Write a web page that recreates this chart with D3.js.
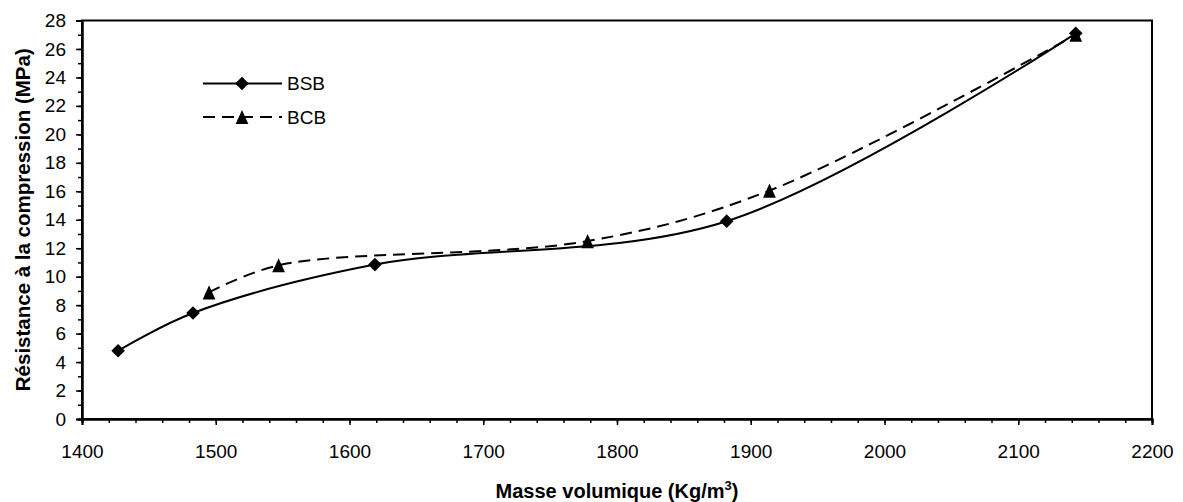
<!DOCTYPE html>
<html>
<head>
<meta charset="utf-8">
<script src="https://cdn.jsdelivr.net/npm/d3@7"></script>
<style>
  body { margin: 0; background: #fff; }
  svg text { font-family: 'Liberation Sans', Arial, sans-serif; fill: #000; }
</style>
</head>
<body>
<svg id="chart" width="1183" height="502"></svg>
<script>
// BSB series
const bsbDensity = [1427, 1483, 1619, 1882, 2143];
const bsbStrength = [4.8, 7.45, 10.85, 13.9, 27.1];
// BCB series
const bcbDensity = [1495, 1547, 1778, 1914, 2143];
const bcbStrength = [8.9, 10.8, 12.5, 16.05, 27.0];

const xTicks = [1400, 1500, 1600, 1700, 1800, 1900, 2000, 2100, 2200];
const yTicks = [0, 2, 4, 6, 8, 10, 12, 14, 16, 18, 20, 22, 24, 26, 28];
const seriesNames = ['BSB', 'BCB'];

const margin = { top: 20.5, right: 31, bottom: 83, left: 82 };
const svg = d3.select('#chart');
const width = +svg.attr('width') - margin.left - margin.right;
const height = +svg.attr('height') - margin.top - margin.bottom;

const x = d3.scaleLinear().domain([1400, 2200]).range([0, width]);
const y = d3.scaleLinear().domain([0, 28]).range([height, 0]);

const g = svg.append('g').attr('transform', `translate(${margin.left},${margin.top})`);

// plot frame
g.append('rect')
  .attr('width', width)
  .attr('height', height)
  .attr('fill', 'none')
  .attr('stroke', '#000')
  .attr('stroke-width', 2);

// minor ticks
const xMinor = d3.axisBottom(x).tickValues(d3.range(1400, 2201, 20)).tickSize(4).tickFormat('');
const yMinor = d3.axisLeft(y).tickValues(d3.range(0, 29, 1)).tickSize(4).tickFormat('');
g.append('g').attr('transform', `translate(0,${height})`).call(xMinor);
g.append('g').call(yMinor);

const xAxis = d3.axisBottom(x).tickValues(xTicks).tickSize(6).tickPadding(20).tickFormat(d3.format('d'));
const yAxis = d3.axisLeft(y).tickValues(yTicks).tickSize(6).tickPadding(10).tickFormat(d3.format('d'));

const xg = g.append('g').attr('transform', `translate(0,${height})`).call(xAxis);
const yg = g.append('g').call(yAxis);

[xg, yg].forEach((a) => {
  a.selectAll('.tick text').style('font-size', '19px');
});
g.selectAll('.domain').attr('stroke', '#000').attr('stroke-width', 2);
g.selectAll('.tick line').attr('stroke', '#000').attr('stroke-width', 1.5);

// axis titles
const xTitle = svg.append('text')
  .attr('x', margin.left + x(1800))
  .attr('y', 498)
  .attr('text-anchor', 'middle')
  .style('font-size', '20px')
  .style('font-weight', 'bold');
xTitle.append('tspan').text('Masse volumique (Kg/m');
xTitle.append('tspan').attr('dy', -8).style('font-size', '13px').text('3');
xTitle.append('tspan').attr('dy', 8).text(')');

svg.append('text')
  .attr('transform', `translate(30,${margin.top + height / 2}) rotate(-90)`)
  .attr('text-anchor', 'middle')
  .style('font-size', '20.5px')
  .style('font-weight', 'bold')
  .text('Résistance à la compression (MPa)');

// series
const bsb = bsbDensity.map((d, i) => ({ x: d, y: bsbStrength[i] }));
const bcb = bcbDensity.map((d, i) => ({ x: d, y: bcbStrength[i] }));

const line = d3.line()
  .x((d) => x(d.x))
  .y((d) => y(d.y))
  .curve(d3.curveCatmullRom.alpha(0.5));

g.append('path')
  .datum(bcb)
  .attr('fill', 'none')
  .attr('stroke', '#000')
  .attr('stroke-width', 2)
  .attr('stroke-dasharray', '12,7')
  .attr('d', line);

g.append('path')
  .datum(bsb)
  .attr('fill', 'none')
  .attr('stroke', '#000')
  .attr('stroke-width', 2)
  .attr('d', line);

// Excel style triangle: box centred, a bit taller than wide
const excelTriangle = {
  draw(context, size) {
    const h = Math.sqrt(size) / 2;
    const w = h * 0.9;
    context.moveTo(0, -h);
    context.lineTo(w, h);
    context.lineTo(-w, h);
    context.closePath();
  },
};

const diamond = d3.symbol().type(d3.symbolDiamond2).size(118);
const triangle = d3.symbol().type(excelTriangle).size(200);

g.selectAll('.bsb')
  .data(bsb)
  .enter()
  .append('path')
  .attr('class', 'bsb')
  .attr('d', diamond)
  .attr('transform', (d) => `translate(${x(d.x)},${y(d.y)})`);

g.selectAll('.bcb')
  .data(bcb)
  .enter()
  .append('path')
  .attr('class', 'bcb')
  .attr('d', triangle)
  .attr('transform', (d) => `translate(${x(d.x)},${y(d.y)})`);

// legend
const legend = svg.append('g');
const legendRows = [
  { name: seriesNames[0], y: 83.5, dash: null, marker: diamond },
  { name: seriesNames[1], y: 117, dash: '12,7', marker: triangle },
];
legendRows.forEach((r) => {
  legend.append('line')
    .attr('x1', 203).attr('x2', 282)
    .attr('y1', r.y).attr('y2', r.y)
    .attr('stroke', '#000')
    .attr('stroke-width', 2)
    .attr('stroke-dasharray', r.dash);
  legend.append('path')
    .attr('d', r.marker)
    .attr('transform', `translate(242,${r.y})`);
  legend.append('text')
    .attr('x', 287)
    .attr('y', r.y)
    .attr('dy', '0.35em')
    .style('font-size', '19px')
    .text(r.name);
});
</script>
</body>
</html>
